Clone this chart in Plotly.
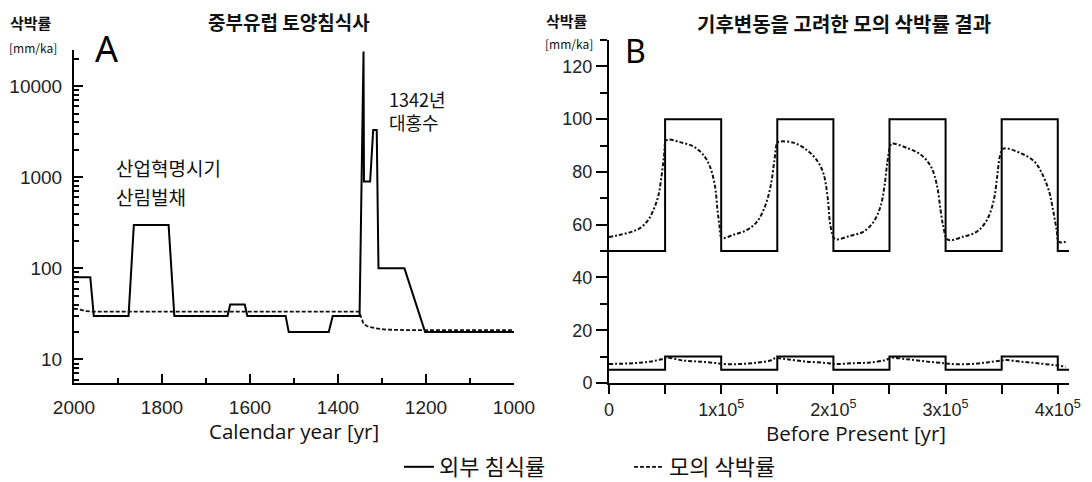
import plotly.graph_objects as go
from plotly.subplots import make_subplots

# ---------------- Panel A : soil erosion history of Central Europe ----------------
cal_years_ext = [2000, 1963, 1955, 1876, 1864, 1785, 1772, 1651, 1645, 1612, 1606, 1519, 1512,
                 1421, 1412, 1351, 1342, 1341, 1327, 1320, 1312, 1308, 1249, 1202, 1000]
ext_rate_A = [80, 80, 30, 30, 300, 300, 30, 30, 40, 40, 30, 30, 20,
              20, 30, 30, 24000, 900, 900, 3300, 3300, 100, 100, 20, 20]

cal_years_mod = [2000, 1990, 1975, 1960, 1352, 1347, 1342, 1332, 1316, 1290, 1250, 1000]
mod_rate_A = [36, 35.5, 34, 33.5, 33.5, 28, 24.5, 23, 22, 21.2, 21, 21]

# ---------------- Panel B : modelled denudation with climate change ----------------
bp_step = [0, 50000, 100000, 150000, 200000, 250000, 300000, 350000, 400000, 410000]
ext_high_B = [50, 100, 50, 100, 50, 100, 50, 100, 50, 50]
ext_low_B = [5, 10, 5, 10, 5, 10, 5, 10, 5, 5]

bp_mod_high = [0, 10000, 20000, 28000, 35000, 40000, 44000, 47000, 49000, 50500, 53000, 63000,
               75000, 84000, 90000, 94500, 96700, 98500, 100500, 111000, 123000, 132000, 139000,
               144000, 147500, 150000, 152000, 165000, 176000, 185000, 191000, 195000, 197500,
               201500, 215000, 227000, 236000, 242000, 245500, 248000, 250500, 252000, 266000,
               278000, 287000, 292500, 295500, 298000, 302000, 316000, 328000, 337000, 343000,
               346000, 348500, 351500, 367000, 379000, 385000, 392000, 396000, 399000, 401000,
               407000]
mod_high_B = [55.3, 56.2, 57.3, 58.8, 61.8, 66, 71, 79, 86, 91.5, 92.3, 91.3,
              89.7, 86.5, 82, 74.5, 65.6, 59.5, 55, 56.2, 58, 61.2, 66.9,
              74.5, 84.6, 91, 91.5, 91, 88.4, 84.6, 79.6, 70, 59.3,
              54.6, 55.8, 57.4, 61.2, 66.9, 74.5, 83.4, 89.5, 90.7, 89,
              86.5, 82, 74.5, 65.6, 59.3, 54.3, 55.5, 57.4, 61.9, 69.4,
              78.3, 86, 88.8, 87.1, 84, 80.2, 73, 65, 58, 53.5,
              53.5]

bp_mod_low = [0, 21700, 36600, 47000, 51500, 66400, 81300, 96200, 100600, 117000, 131900, 143800,
              148200, 158700, 176500, 195800, 200300, 218100, 233000, 246400, 251500, 265800,
              283700, 298500, 304500, 322300, 337200, 349100, 355100, 367000, 381800, 400000,
              407000]
mod_low_B = [7.2, 7.5, 8.1, 9.0, 9.6, 8.5, 8.1, 7.5, 7.2, 7.2, 7.7, 8.5,
             9.4, 9.0, 8.1, 7.5, 7.2, 7.5, 7.8, 8.7, 9.5, 9.0,
             8.1, 7.5, 7.2, 7.2, 7.8, 8.5, 8.7, 8.1, 7.5, 6.6,
             6.2]

ytick_A = [10, 100, 1000, 10000]
ytick_A_text = ["10", "100", "1000", "10000"]
xtick_B = [0, 100000, 200000, 300000, 400000]
xtick_B_text = ["0", "1x10<sup>5</sup>", "2x10<sup>5</sup>", "3x10<sup>5</sup>", "4x10<sup>5</sup>"]

legend_names = ["외부 침식률", "모의 삭박률"]

W, H = 1092, 482
OFF = 8  # page body margin offset of the plot div
KR = "Noto Sans CJK KR"
NUM = "Liberation Sans"
LAT = "Open Sans"

fig = make_subplots(rows=1, cols=2)

solid = dict(color="black", width=2)
dashA = dict(color="#111", width=1.8, dash="4px,2px")
dashB = dict(color="#111", width=2, dash="4px,2px,2px,2px")

fig.add_trace(go.Scatter(x=cal_years_ext, y=ext_rate_A, mode="lines", line=solid,
                         name=legend_names[0], showlegend=True), row=1, col=1)
fig.add_trace(go.Scatter(x=cal_years_mod, y=mod_rate_A, mode="lines", line=dashA,
                         name=legend_names[1], showlegend=True), row=1, col=1)

fig.add_trace(go.Scatter(x=bp_step, y=ext_high_B, mode="lines", line=solid, line_shape="hv",
                         showlegend=False), row=1, col=2)
fig.add_trace(go.Scatter(x=bp_step, y=ext_low_B, mode="lines", line=solid, line_shape="hv",
                         showlegend=False), row=1, col=2)
fig.add_trace(go.Scatter(x=bp_mod_high, y=mod_high_B, mode="lines", line=dashB,
                         line_shape="spline", showlegend=False), row=1, col=2)
fig.add_trace(go.Scatter(x=bp_mod_low, y=mod_low_B, mode="lines", line=dashB,
                         line_shape="spline", showlegend=False), row=1, col=2)

def px_x(p):
    return (p - OFF) / W

def px_y(p):
    return 1 - (p - OFF) / H

axis_common = dict(showline=True, linecolor="black", linewidth=2, showgrid=False, zeroline=False,
                   tickcolor="black", tickwidth=2, automargin=False)

fig.update_xaxes(domain=[px_x(74), px_x(514)], range=[2000, 1000], dtick=200, ticks="inside",
                 ticklen=9, ticklabelstandoff=6,
                 minor=dict(dtick=100, ticks="inside", ticklen=5, tickcolor="black", tickwidth=2),
                 tickfont=dict(family=NUM, size=19, color="#222"), **axis_common, row=1, col=1)
fig.update_yaxes(domain=[px_y(383), px_y(50)], type="log", range=[0.7404, 4.3979],
                 tickvals=ytick_A, ticktext=ytick_A_text, ticks="inside", ticklen=9,
                 ticklabelstandoff=6,
                 minor=dict(dtick="D1", ticks="inside", ticklen=5, tickcolor="black", tickwidth=1.5),
                 tickfont=dict(family=NUM, size=19, color="#222"), **axis_common, row=1, col=1)

fig.update_xaxes(domain=[px_x(609), px_x(1069)], range=[0, 410000], tickvals=xtick_B,
                 ticktext=xtick_B_text, ticks="outside", ticklen=9,
                 minor=dict(dtick=50000, tick0=0, ticks="outside", ticklen=9, tickcolor="black",
                            tickwidth=2),
                 tickfont=dict(family=NUM, size=18, color="#222"), **axis_common, row=1, col=2)
fig.update_yaxes(domain=[px_y(383), px_y(40)], range=[0, 130], dtick=20, tick0=0,
                 ticks="outside", ticklen=11,
                 minor=dict(dtick=10, tick0=0, ticks="outside", ticklen=7, tickcolor="black",
                            tickwidth=2),
                 tickfont=dict(family=NUM, size=18, color="#222"), **axis_common, row=1, col=2)

ann = []

def text(x, y, s, size, family=KR, xanchor="center", weight="normal", color="#111", align="center"):
    ann.append(dict(x=px_x(x), y=px_y(y), xref="paper", yref="paper", text=s, showarrow=False,
                    xanchor=xanchor, yanchor="middle", align=align,
                    font=dict(family=family, size=size, color=color, weight=weight)))

# titles
text(289, 21, "중부유럽 토양침식사", 19, weight="bold")
text(844, 23, "기후변동을 고려한 모의 삭박률 결과", 20, weight="bold")
# y labels
text(31, 22, "삭박률", 15, weight="bold")
text(33, 47, "[mm/ka]", 12)
text(567, 20, "삭박률", 15, weight="bold")
text(569, 44, "[mm/ka]", 12)
# panel letters
text(93, 48, "A", 36, family="Noto Sans", xanchor="left", color="black")
text(623, 50, "B", 32, family="Noto Sans", xanchor="left", color="black")
# annotations in panel A
text(114, 168, "산업혁명시기", 19, xanchor="left")
text(114, 197, "산림벌채", 19, xanchor="left")
text(387, 110, "1342년<br>대홍수", 18, xanchor="left", align="left")
# axis titles
text(294, 431, "Calendar year [yr]", 20.5, family=LAT)
text(856, 433, "Before Present [yr]", 20.5, family=LAT)

fig.update_layout(
    width=W, height=H, margin=dict(l=0, r=0, t=0, b=0),
    paper_bgcolor="white", plot_bgcolor="white",
    annotations=ann,
    showlegend=True,
    legend=dict(orientation="h", x=px_x(399), xanchor="left", y=px_y(467), yanchor="middle",
                font=dict(family=KR, size=22, color="#111"), entrywidth=185,
                entrywidthmode="pixels", bgcolor="rgba(0,0,0,0)", tracegroupgap=0),
)

fig.write_html("out.html")
